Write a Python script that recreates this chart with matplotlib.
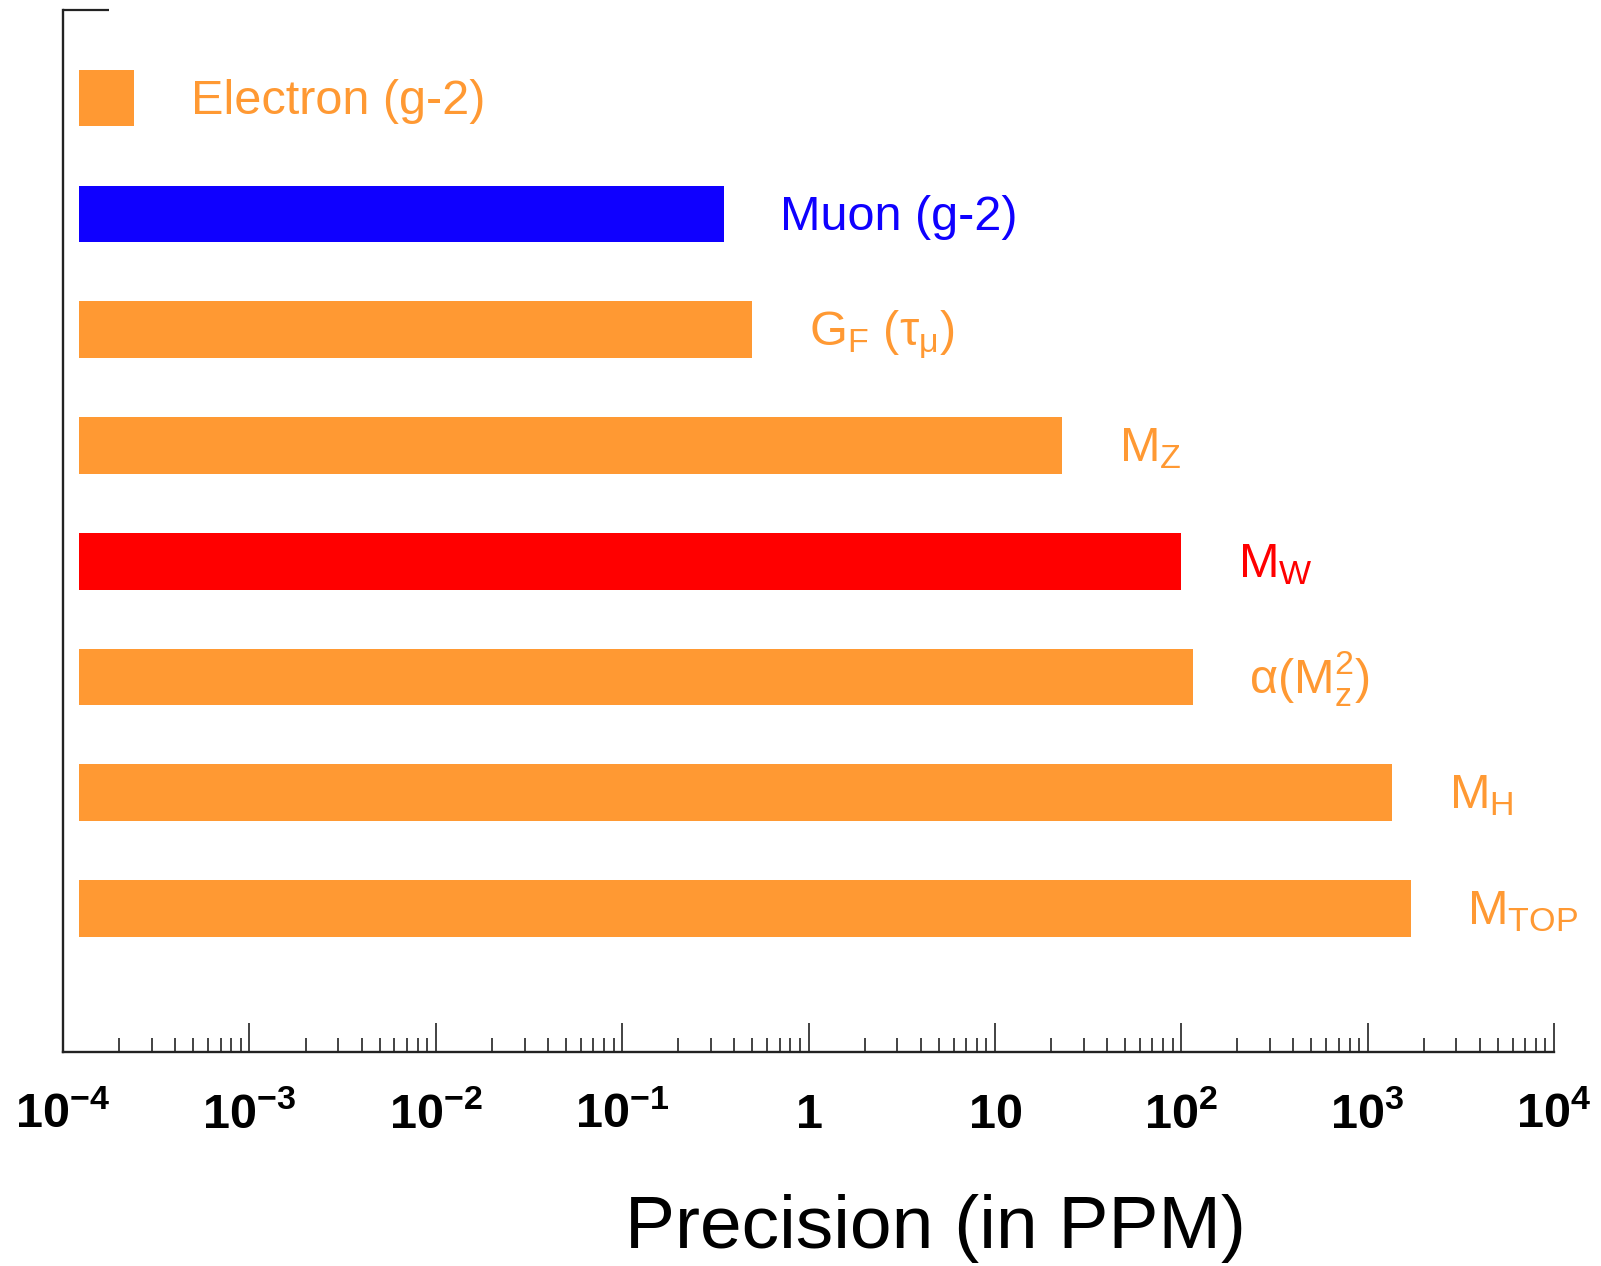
import matplotlib
matplotlib.use("Agg")
import matplotlib.pyplot as plt
from matplotlib.ticker import FixedLocator, LogLocator, NullFormatter

ORANGE = "#FF9933"
BLUE = "#0F00FF"
RED = "#FF0000"

QUANTITIES = [
    "Electron (g-2)",
    "Muon (g-2)",
    r"$G_F\ (\tau_\mu)$",
    r"$M_Z$",
    r"$M_W$",
    r"$\alpha(M_z^2)$",
    r"$M_H$",
    r"$M_{TOP}$",
]
PRECISION_PPM = [2.4e-4, 0.35, 0.5, 23, 100, 115, 1360, 1700]
BAR_COLORS = [ORANGE, BLUE, ORANGE, ORANGE, RED, ORANGE, ORANGE, ORANGE]

TICK_VALUES = [1e-4, 1e-3, 1e-2, 1e-1, 1, 10, 1e2, 1e3, 1e4]
TICK_LABELS = [
    r"$\mathbf{10^{-4}}$",
    r"$\mathbf{10^{-3}}$",
    r"$\mathbf{10^{-2}}$",
    r"$\mathbf{10^{-1}}$",
    r"$\mathbf{1}$",
    r"$\mathbf{10}$",
    r"$\mathbf{10^{2}}$",
    r"$\mathbf{10^{3}}$",
    r"$\mathbf{10^{4}}$",
]

BAR_START = 1.22e-4


def main():
    plt.rcParams["font.family"] = ["Liberation Sans", "DejaVu Sans"]
    plt.rcParams["mathtext.fontset"] = "custom"
    plt.rcParams["mathtext.rm"] = "Liberation Sans"
    plt.rcParams["mathtext.it"] = "Liberation Sans"
    plt.rcParams["mathtext.bf"] = "Liberation Sans:bold"
    plt.rcParams["mathtext.default"] = "rm"

    fig = plt.figure(figsize=(16.01, 12.66), dpi=100)
    ax = fig.add_axes([0.0394, 0.169, 0.9312, 0.823])

    positions = list(range(len(QUANTITIES)))
    widths = [v - BAR_START for v in PRECISION_PPM]
    ax.barh(positions, widths, left=BAR_START, height=0.49,
            color=BAR_COLORS, edgecolor="none")

    for pos, value, label, color in zip(positions, PRECISION_PPM, QUANTITIES, BAR_COLORS):
        ax.annotate(label, xy=(value, pos), xytext=(41, -11.5),
                    textcoords="offset points", ha="left", va="baseline",
                    fontsize=35, color=color)

    ax.set_xscale("log")
    ax.set_xlim(1e-4, 1e4)
    ax.set_ylim(8.24, -0.76)

    ax.xaxis.set_major_locator(FixedLocator(TICK_VALUES))
    ax.set_xticks(TICK_VALUES)
    ax.set_xticklabels(TICK_LABELS)
    ax.xaxis.set_minor_locator(LogLocator(base=10, subs=range(2, 10), numticks=100))
    ax.xaxis.set_minor_formatter(NullFormatter())
    ax.tick_params(axis="x", which="major", direction="in", length=21, width=1.2,
                   colors="#222222", labelsize=35, pad=54.5, labelcolor="black")
    ax.tick_params(axis="x", which="minor", direction="in", length=10, width=1.2,
                   colors="#222222")
    for lbl in ax.get_xticklabels():
        lbl.set_va("baseline")

    # single inward tick closing the top of the vertical axis
    ax.set_yticks([-0.76])
    ax.tick_params(axis="y", which="major", direction="in", length=33, width=1.6,
                   colors="#222222", labelleft=False)

    for side in ("top", "right"):
        ax.spines[side].set_visible(False)
    for side in ("left", "bottom"):
        ax.spines[side].set_linewidth(1.7)
        ax.spines[side].set_color("#222222")

    ax.set_xlabel("Precision (in PPM)", fontsize=54)
    ax.xaxis.set_label_coords(0.585, -0.188)
    ax.xaxis.label.set_va("baseline")

    fig.savefig("out.png", dpi=100)
    plt.close(fig)


if __name__ == "__main__":
    main()
